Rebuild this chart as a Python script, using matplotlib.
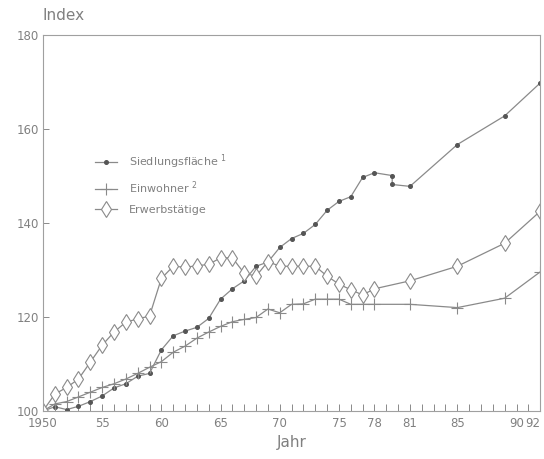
import matplotlib
matplotlib.use("Agg")
import matplotlib.pyplot as plt

jahre_sf = [1950, 1951, 1952, 1953, 1954, 1955, 1956, 1957, 1958, 1959, 1960,
            1961, 1962, 1963, 1964, 1965, 1966, 1967, 1968, 1969, 1970,
            1971, 1972, 1973, 1974, 1975, 1976, 1977, 1978, 1979.5, 1979.5,
            1981, 1985, 1989, 1992]
siedlungsflaeche = [100, 100.9, 100.3, 101, 102, 103.2, 104.9, 105.8, 107.4, 108, 113,
                    116, 117, 117.8, 119.7, 123.8, 126, 127.7, 130.8, 131.7, 134.8,
                    136.7, 137.8, 139.7, 142.7, 144.6, 145.6, 149.7, 150.7, 150.1, 148.2,
                    147.8, 156.7, 162.8, 169.8]

jahre_ew = [1950, 1951, 1952, 1953, 1954, 1955, 1956, 1957, 1958, 1959, 1960,
            1961, 1962, 1963, 1964, 1965, 1966, 1967, 1968, 1969, 1970,
            1971, 1972, 1973, 1974, 1975, 1976, 1977, 1978, 1981, 1985, 1989, 1992]
einwohner = [100, 101.5, 102, 103, 104, 105, 105.8, 106.8, 108, 109.3, 110.5,
             112.5, 113.8, 115.5, 116.8, 118, 119, 119.5, 119.9, 121.7, 120.9,
             122.7, 122.8, 123.8, 123.8, 123.8, 122.7, 122.7, 122.7, 122.7, 122, 124, 129.6]

jahre_et = [1950, 1951, 1952, 1953, 1954, 1955, 1956, 1957, 1958, 1959, 1960,
            1961, 1962, 1963, 1964, 1965, 1966, 1967, 1968, 1969, 1970,
            1971, 1972, 1973, 1974, 1975, 1976, 1977, 1978, 1981, 1985, 1989, 1992]
erwerbstaetige = [100, 103.6, 105, 106.8, 110.4, 114, 116.8, 118.9, 119.6, 120.2, 128.2,
                  130.8, 130.6, 130.9, 131.2, 132.6, 132.6, 129.3, 128.7, 131.8, 130.8,
                  130.8, 130.8, 130.8, 128.7, 127, 125.8, 124.7, 126, 127.7, 130.8, 135.7, 142.5]

x_ticks = [1950, 1955, 1960, 1965, 1970, 1975, 1978, 1981, 1985, 1990, 1992]
x_labels = ["1950", "55", "60", "65", "70", "75", "78", "81", "85", "90", "92"]
y_ticks = [100, 120, 140, 160, 180]

grau = "#8a8a8a"
text_grau = "#808080"

fig = plt.figure(figsize=(5.44, 4.59), dpi=100)
ax = fig.add_axes([0.079, 0.1046, 0.914, 0.819])

ax.plot(jahre_sf, siedlungsflaeche, color=grau, lw=0.9, marker="o", ms=2.6,
        mfc="#555555", mec="#555555", label="Siedlungsfläche $^{1}$")
ax.plot(jahre_ew, einwohner, color=grau, lw=0.9, marker="+", ms=9, mew=0.8,
        label="Einwohner $^{2}$")
ax.plot(jahre_et, erwerbstaetige, color=grau, lw=0.9, marker="d", ms=8.5, mew=0.8,
        mfc="white", mec=grau, label="Erwerbstätige")

ax.set_xlim(1950, 1992)
ax.set_ylim(100, 180)
ax.set_xticks(x_ticks)
ax.set_xticklabels(x_labels)
ax.get_xticklabels()[-1].set_ha("right")
ax.set_xticks(range(1950, 1993), minor=True)
ax.set_yticks(y_ticks)

ax.tick_params(axis="x", which="both", direction="in", length=5, width=0.7,
               color=grau, labelcolor=text_grau, labelsize=8.5, pad=4)
ax.tick_params(axis="y", direction="in", length=4, width=0.7,
               color=grau, labelcolor=text_grau, labelsize=8.5, pad=3)
for s in ax.spines.values():
    s.set_color("#a0a0a0")
    s.set_linewidth(0.8)

ax.set_xlabel("Jahr", color=text_grau, fontsize=11, labelpad=4)
fig.text(0.079, 0.966, "Index", color=text_grau, fontsize=11, ha="left", va="center")

leg = ax.legend(loc="upper left", bbox_to_anchor=(0.085, 0.715), frameon=False,
                fontsize=8, handlelength=2.0, labelspacing=0.8, handletextpad=1.0,
                labelcolor=text_grau)

fig.savefig("out.png", dpi=100)
